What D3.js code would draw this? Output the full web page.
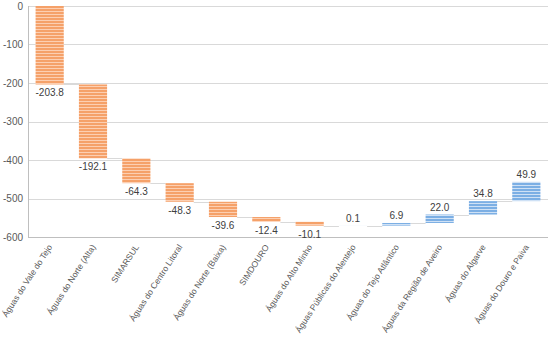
<!DOCTYPE html>
<html lang="pt">
<head>
<meta charset="UTF-8">
<title>waterfall</title>
<script src="https://d3js.org/d3.v7.min.js"></script>
<style>
    body { margin: 0; background: #fff; }
    text { font-family: 'Liberation Sans', Arial, sans-serif; }
</style>
</head>
<body>
<div id="chart"></div>
<script>
    let categories = ["Águas do Vale do Tejo", "Águas do Norte (Alta)", "SIMARSUL", "Águas do Centro Litoral",
        "Águas do Norte (Baixa)", "SIMDOURO", "Águas do Alto Minho", "Águas Públicas do Alentejo",
        "Águas do Tejo Atlântico", "Águas da Região de Aveiro", "Águas do Algarve", "Águas do Douro e Paiva"];
    let values = [-203.8, -192.1, -64.3, -48.3, -39.6, -12.4, -10.1, 0.1, 6.9, 22.0, 34.8, 49.9];
    let yTicks = [0, -100, -200, -300, -400, -500, -600];

    let width = 550, height = 345;
    let margin = { top: 6, right: 2, bottom: 108, left: 28 };

    // running totals for waterfall
    let acc = 0;
    let steps = values.map(function (v, i) {
        let start = acc;
        acc += v;
        return { name: categories[i], value: v, start: start, end: acc };
    });

    let x = d3.scaleBand()
        .domain(categories)
        .range([margin.left, width - margin.right])
        .paddingInner(0.35)
        .paddingOuter(0.175);

    let y = d3.scaleLinear()
        .domain([-600, 0])
        .range([height - margin.bottom, margin.top]);

    let svg = d3.select("#chart").append("svg")
        .attr("width", width)
        .attr("height", height);

    // striped fills
    let defs = svg.append("defs");
    [["negStripe", "#f5a169", "#fccfb2"], ["posStripe", "#7cafe4", "#cfe1f5"]].forEach(function (p) {
        let pat = defs.append("pattern")
            .attr("id", p[0])
            .attr("patternUnits", "userSpaceOnUse")
            .attr("width", 6).attr("height", 3);
        pat.append("rect").attr("width", 6).attr("height", 3).attr("fill", p[1]);
        pat.append("rect").attr("y", 2).attr("width", 6).attr("height", 1).attr("fill", p[2]);
    });

    // gridlines
    svg.append("g")
        .selectAll("line")
        .data(yTicks)
        .enter().append("line")
        .attr("x1", margin.left).attr("x2", width - margin.right)
        .attr("y1", d => Math.round(y(d)) + 0.5).attr("y2", d => Math.round(y(d)) + 0.5)
        .attr("stroke", d => d == -600 ? "#bfbfbf" : "#d9d9d9")
        .attr("stroke-width", 1);

    // left axis line
    svg.append("line")
        .attr("x1", margin.left + 0.5).attr("x2", margin.left + 0.5)
        .attr("y1", y(0)).attr("y2", y(-600))
        .attr("stroke", "#bfbfbf");

    // y labels
    svg.append("g")
        .selectAll("text")
        .data(yTicks)
        .enter().append("text")
        .attr("x", margin.left - 5)
        .attr("y", d => y(d))
        .attr("dy", "0.35em")
        .attr("text-anchor", "end")
        .attr("font-size", 10)
        .attr("fill", "#595959")
        .text(d => d);

    // connectors
    svg.append("g")
        .selectAll("line")
        .data(steps.slice(0, -1))
        .enter().append("line")
        .attr("x1", d => x(d.name) + x.bandwidth())
        .attr("x2", (d, i) => x(categories[i + 1]))
        .attr("y1", d => Math.round(y(d.end)) + 0.5)
        .attr("y2", d => Math.round(y(d.end)) + 0.5)
        .attr("stroke", "#d9d9d9")
        .attr("stroke-width", 1);

    // bars
    svg.append("g")
        .selectAll("rect")
        .data(steps)
        .enter().append("rect")
        .attr("x", d => x(d.name))
        .attr("width", x.bandwidth())
        .attr("y", d => y(Math.max(d.start, d.end)))
        .attr("height", d => Math.abs(y(d.start) - y(d.end)))
        .attr("fill", d => d.value < 0 ? "url(#negStripe)" : "url(#posStripe)");

    // value labels
    svg.append("g")
        .selectAll("text")
        .data(steps)
        .enter().append("text")
        .attr("x", d => x(d.name) + x.bandwidth() / 2)
        .attr("y", d => d.value < 0 ? y(d.end) + 12 : y(d.end) - 4)
        .attr("text-anchor", "middle")
        .attr("font-size", 10)
        .attr("fill", "#404040")
        .text(d => d.value.toFixed(1));

    // category labels
    svg.append("g")
        .selectAll("text")
        .data(categories)
        .enter().append("text")
        .attr("transform", d => "translate(" + (x(d) + x.bandwidth() / 2 + 3) + "," + (height - margin.bottom + 10) + ") rotate(-57)")
        .attr("text-anchor", "end")
        .attr("font-size", 8.5)
        .attr("fill", "#595959")
        .text(d => d);
</script>
</body>
</html>
